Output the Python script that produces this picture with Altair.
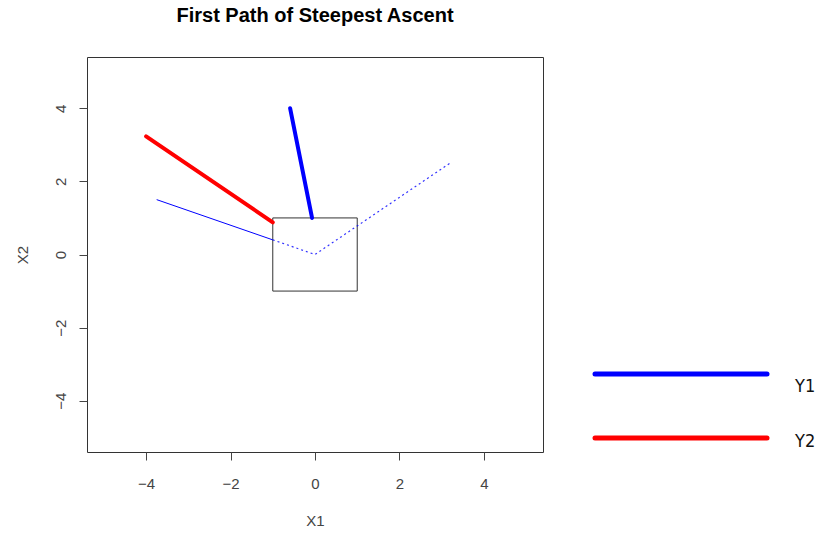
import altair as alt
import pandas as pd

# ---- data ----
x_ticks = [-4, -2, 0, 2, 4]
y_ticks = [-4, -2, 0, 2, 4]

series = ["Y1", "Y2"]
series_colors = ["#0000FF", "#FF0000"]

# first path of steepest ascent (thick lines)
y1_x1 = [-0.07, -0.59]
y1_x2 = [1.0, 4.0]
y2_x1 = [-1.0, -4.0]
y2_x2 = [0.88, 3.23]

# thin blue contour-like lines
thin_x1 = [-3.75, -1.0]
thin_x2 = [1.5, 0.4]
dot_x1 = [-1.0, 0.0, 3.2]
dot_x2 = [0.4, 0.0, 2.5]

# experimental region box
box_x1 = [-1.0, 1.0]
box_x2 = [-1.0, 1.0]

W, H = 456, 395
AXIS_FONT = "Liberation Sans"

thick_df = pd.DataFrame({
    "x1": y1_x1 + y2_x1,
    "x2": y1_x2 + y2_x2,
    "series": ["Y1"] * len(y1_x1) + ["Y2"] * len(y2_x1),
    "i": list(range(len(y1_x1))) + list(range(len(y2_x1))),
})
thin_df = pd.DataFrame({"x1": thin_x1, "x2": thin_x2, "i": range(len(thin_x1))})
dot_df = pd.DataFrame({"x1": dot_x1, "x2": dot_x2, "i": range(len(dot_x1))})
box_df = pd.DataFrame({"x1": [box_x1[0]], "x1b": [box_x1[1]],
                       "x2": [box_x2[0]], "x2b": [box_x2[1]]})
leg_df = pd.DataFrame({"series": series})

xscale = alt.Scale(domain=[-5.4, 5.4], nice=False, zero=False)
yscale = alt.Scale(domain=[-5.4, 5.4], nice=False, zero=False)

xaxis = alt.Axis(values=x_ticks, title="X1", grid=False, domain=False,
                 tickSize=8, tickColor="#444", labelPadding=16,
                 labelColor="#444", labelFont=AXIS_FONT, labelFontSize=15,
                 titleFont=AXIS_FONT, titleFontSize=15, titleFontWeight="normal",
                 titleColor="#444", titleY=61, titleBaseline="top")
yaxis = alt.Axis(values=y_ticks, title="X2", grid=False, domain=False,
                 tickSize=8, tickColor="#444", labelPadding=14,
                 labelAngle=270, labelAlign="center", labelBaseline="alphabetic",
                 labelColor="#444", labelFont=AXIS_FONT, labelFontSize=15,
                 titleFont=AXIS_FONT, titleFontSize=15, titleFontWeight="normal",
                 titleColor="#444", titleAngle=270, titleAlign="center",
                 titleBaseline="alphabetic", titleX=-60, titleY=H / 2)

color_scale = alt.Scale(domain=series, range=series_colors)

thick = alt.Chart(thick_df).mark_line(strokeWidth=4, strokeCap="round").encode(
    x=alt.X("x1:Q", scale=xscale, axis=xaxis),
    y=alt.Y("x2:Q", scale=yscale, axis=yaxis),
    color=alt.Color("series:N", scale=color_scale, legend=None),
    order="i:Q",
)
thin = alt.Chart(thin_df).mark_line(strokeWidth=1, color="#0000FF").encode(
    x="x1:Q", y="x2:Q", order="i:Q"
)
dotted = alt.Chart(dot_df).mark_line(strokeWidth=1.2, color="#0000FF",
                                     strokeDash=[2, 3], opacity=0.8).encode(
    x="x1:Q", y="x2:Q", order="i:Q"
)
box = alt.Chart(box_df).mark_rect(filled=False, stroke="#333", strokeWidth=1).encode(
    x="x1:Q", x2="x1b:Q", y="x2:Q", y2="x2b:Q"
)

main = alt.layer(box, thin, dotted, thick)

# ---- legend drawn to the right of the plot ----
leg_x = alt.Scale(domain=[0, 1], range=[508, 680])
leg_y = alt.Scale(type="point", domain=series, range=[317, 381], padding=0)
LEG_FONT = "DejaVu Sans Condensed, Liberation Sans, sans-serif"

leg_lines = alt.Chart(leg_df).mark_rule(strokeWidth=5, strokeCap="round").encode(
    x=alt.XDatum(0, scale=leg_x, axis=None),
    x2=alt.X2Datum(1),
    y=alt.Y("series:N", scale=leg_y, axis=None),
    color=alt.Color("series:N", scale=color_scale, legend=None),
)
lab1 = alt.Chart(leg_df).transform_filter(alt.datum.series == series[0]).mark_text(
    align="left", baseline="middle", dx=28, dy=13, fontSize=18,
    font=LEG_FONT, color="#111"
).encode(x=alt.XDatum(1), y="series:N", text="series:N")
lab2 = alt.Chart(leg_df).transform_filter(alt.datum.series == series[1]).mark_text(
    align="left", baseline="middle", dx=28, dy=4, fontSize=18,
    font=LEG_FONT, color="#111"
).encode(x=alt.XDatum(1), y="series:N", text="series:N")

legend = alt.layer(leg_lines, lab1, lab2)

chart = alt.layer(main, legend).resolve_scale(
    x="independent", y="independent"
).properties(
    width=W, height=H,
    background="white",
    padding={"left": 87, "top": 57, "right": 277, "bottom": 83},
    autosize=alt.AutoSizeParams(type="none"),
    title=alt.TitleParams(text="First Path of Steepest Ascent", font="Liberation Sans",
                          fontSize=20, fontWeight="bold", color="black",
                          anchor="middle", frame="group", offset=31),
).configure_view(stroke="#333", strokeWidth=1)

chart.save("out.html", embed_options={"renderer": "svg", "actions": False})
